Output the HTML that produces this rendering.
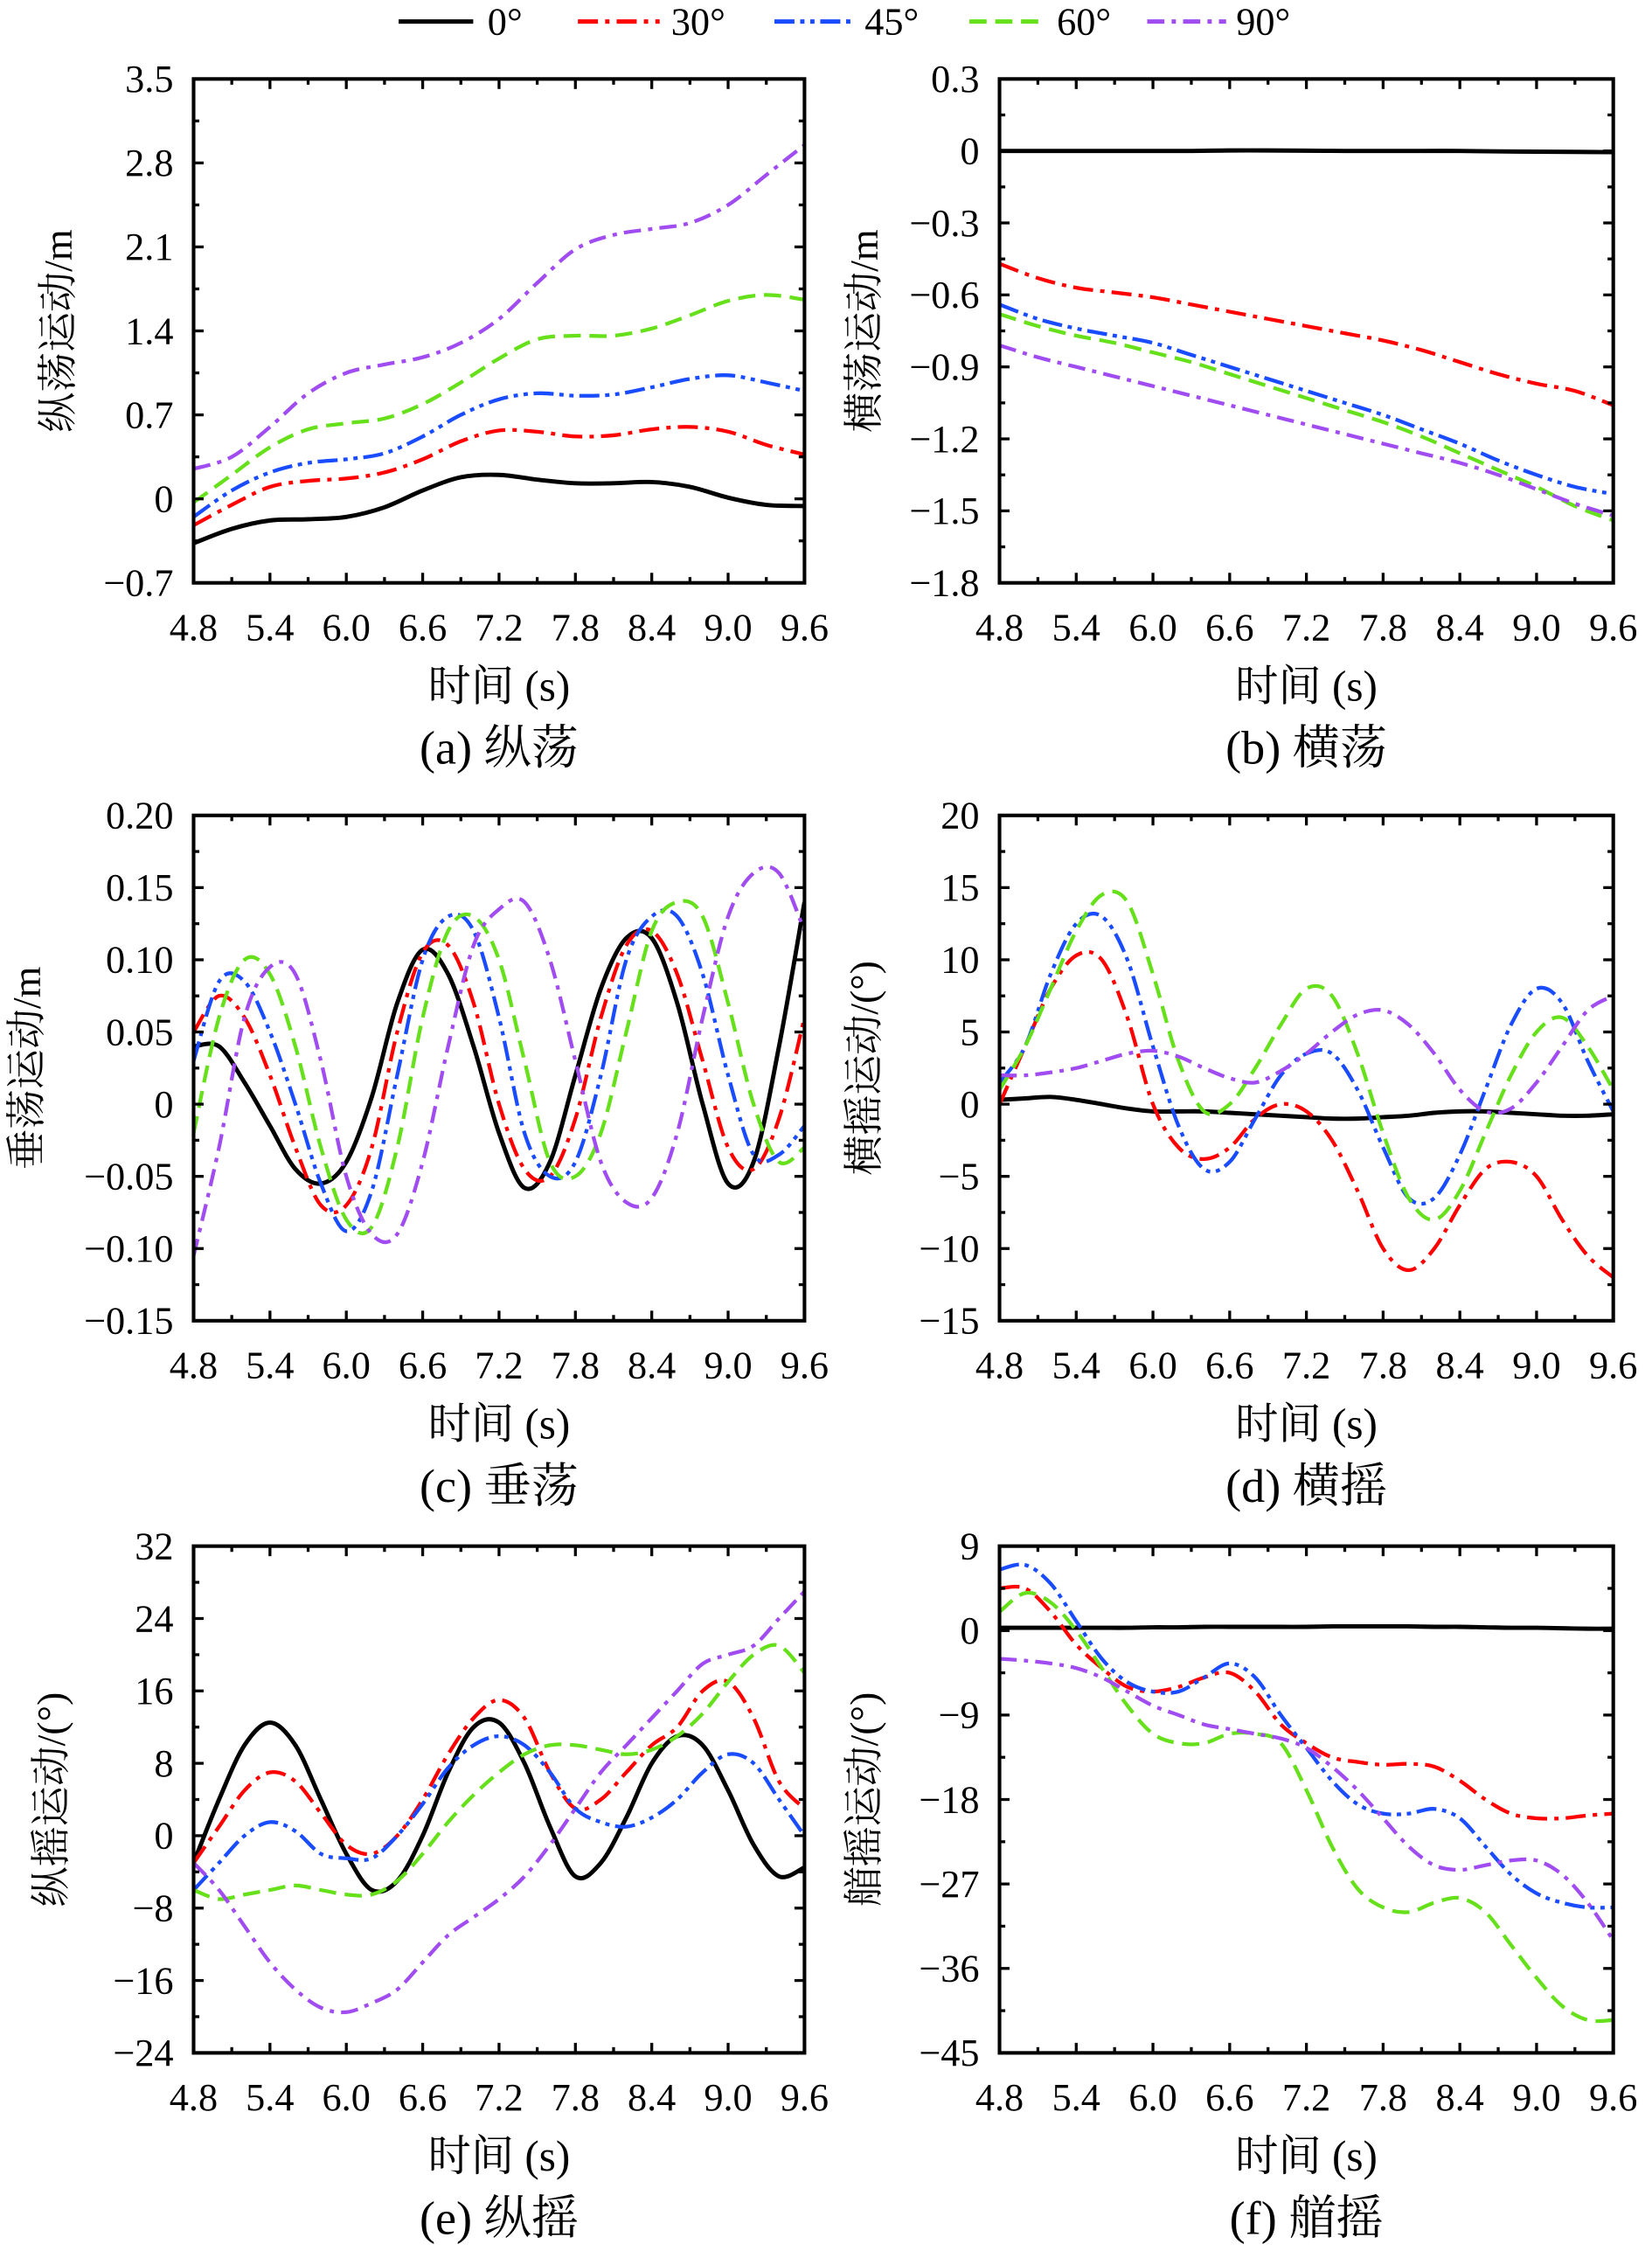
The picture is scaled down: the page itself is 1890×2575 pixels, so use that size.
<!DOCTYPE html>
<html><head><meta charset="utf-8">
<style>
html,body{margin:0;padding:0;background:#fff;}
svg{display:block;}
text{font-family:"Liberation Serif","Noto Serif CJK SC",serif;fill:#000;}
</style></head>
<body>
<svg id="fig" width="1890" height="2575" viewBox="0 0 1152 1568" preserveAspectRatio="none" xmlns="http://www.w3.org/2000/svg">
<g id="legend">
  <g><line x1="278" y1="15" x2="330" y2="15" stroke="#000" stroke-width="3"/><text x="340" y="24" font-size="27">0°</text></g>
  <g><line x1="403" y1="15" x2="460" y2="15" stroke="#f00" stroke-width="3" stroke-dasharray="14 5 3 5"/><text x="468" y="24" font-size="27">30°</text></g>
  <g><line x1="540" y1="15" x2="595" y2="15" stroke="#1a4cff" stroke-width="3" stroke-dasharray="14 4 3 4 3 4"/><text x="603" y="24" font-size="27">45°</text></g>
  <g><line x1="676" y1="15" x2="730" y2="15" stroke="#66e01a" stroke-width="3" stroke-dasharray="12 6"/><text x="737" y="24" font-size="27">60°</text></g>
  <g><line x1="800" y1="15" x2="855" y2="15" stroke="#a04cf0" stroke-width="3" stroke-dasharray="12 5 3 5"/><text x="862" y="24" font-size="27">90°</text></g>
</g>
</svg>
<script>
// ---- data ----
const tA = [4.8,5.1,5.4,5.7,6.0,6.3,6.6,6.9,7.2,7.5,7.8,8.1,8.4,8.7,9.0,9.3,9.6];
const tB = [4.8,5.0,5.2,5.4,5.6,5.8,6.0,6.2,6.4,6.6,6.8,7.0,7.2,7.4,7.6,7.8,8.0,8.2,8.4,8.6,8.8,9.0,9.2,9.4,9.6];
const xTicks = ["4.8","5.4","6.0","6.6","7.2","7.8","8.4","9.0","9.6"];
const seriesNames = ["0°","30°","45°","60°","90°"];

const surge0 = [-0.37,-0.25,-0.18,-0.17,-0.15,-0.07,0.07,0.18,0.2,0.16,0.13,0.13,0.14,0.1,0.01,-0.05,-0.06];
const surge30 = [-0.22,-0.05,0.1,0.15,0.17,0.22,0.33,0.48,0.57,0.56,0.52,0.53,0.58,0.6,0.56,0.45,0.37];
const surge45 = [-0.15,0.07,0.22,0.3,0.33,0.38,0.52,0.7,0.83,0.88,0.86,0.87,0.93,1.0,1.03,0.97,0.9];
const surge60 = [-0.03,0.2,0.43,0.58,0.63,0.67,0.79,0.97,1.17,1.33,1.36,1.36,1.42,1.53,1.65,1.7,1.66];
const surge90 = [0.25,0.35,0.6,0.88,1.05,1.12,1.18,1.3,1.5,1.8,2.08,2.2,2.25,2.3,2.45,2.7,2.95];
const surgeTicks = ["3.5","2.8","2.1","1.4","0.7","0","−0.7"];

const sway0 = [0,0,0,0,0,0,0.002,0.002,0.001,0,0,0,0,-0.002,-0.003,-0.004,-0.005];
const sway30 = [-0.47,-0.53,-0.57,-0.59,-0.61,-0.64,-0.67,-0.7,-0.73,-0.76,-0.79,-0.83,-0.88,-0.93,-0.97,-1.0,-1.06];
const sway45 = [-0.64,-0.7,-0.74,-0.77,-0.8,-0.85,-0.9,-0.95,-1.0,-1.05,-1.1,-1.16,-1.22,-1.29,-1.35,-1.4,-1.43];
const sway60 = [-0.68,-0.73,-0.77,-0.8,-0.84,-0.88,-0.93,-0.98,-1.03,-1.08,-1.13,-1.19,-1.26,-1.33,-1.4,-1.48,-1.54];
const sway90 = [-0.81,-0.86,-0.9,-0.94,-0.98,-1.02,-1.06,-1.1,-1.14,-1.18,-1.22,-1.26,-1.3,-1.35,-1.41,-1.47,-1.52];
const swayTicks = ["0.3","0","−0.3","−0.6","−0.9","−1.2","−1.5","−1.8"];

const heave0 = [0.04,0.04,0.015,-0.015,-0.045,-0.055,-0.04,0.005,0.07,0.107,0.09,0.04,-0.02,-0.058,-0.04,0.02,0.08,0.115,0.115,0.07,0.0,-0.055,-0.04,0.04,0.14];
const heave30 = [0.05,0.075,0.06,0.02,-0.03,-0.07,-0.07,-0.03,0.05,0.105,0.11,0.07,0.0,-0.045,-0.05,-0.01,0.06,0.11,0.12,0.09,0.03,-0.03,-0.045,-0.01,0.06];
const heave45 = [0.03,0.085,0.085,0.05,0.0,-0.055,-0.088,-0.06,0.02,0.1,0.13,0.12,0.06,-0.02,-0.05,-0.04,0.02,0.1,0.13,0.13,0.09,0.02,-0.035,-0.035,-0.015];
const heave60 = [-0.02,0.06,0.1,0.09,0.04,-0.03,-0.08,-0.085,-0.03,0.06,0.12,0.13,0.1,0.03,-0.04,-0.05,-0.02,0.05,0.12,0.14,0.13,0.07,0.0,-0.04,-0.03];
const heave90 = [-0.105,-0.03,0.06,0.095,0.09,0.03,-0.05,-0.09,-0.09,-0.04,0.04,0.11,0.135,0.14,0.1,0.03,-0.04,-0.068,-0.065,-0.02,0.06,0.13,0.16,0.16,0.12];
const heaveTicks = ["0.20","0.15","0.10","0.05","0","−0.05","−0.10","−0.15"];

const roll0 = [0.3,0.4,0.5,0.3,0,-0.3,-0.5,-0.5,-0.5,-0.6,-0.7,-0.8,-0.9,-1.0,-1.0,-0.9,-0.8,-0.6,-0.5,-0.5,-0.6,-0.7,-0.8,-0.8,-0.7];
const roll30 = [0,4,8,10.3,10,6,0,-3,-3.8,-3,-1,0,-0.5,-2.5,-6,-10,-11.5,-10,-7,-4.5,-4,-5,-8,-10.5,-12];
const roll45 = [1.5,4,9,12.5,13,10,4,-1.5,-4.5,-4,-1,2,3.5,3.5,1,-3,-6.5,-6.5,-3.5,1,5.5,8,7,3,-0.5];
const roll60 = [1,4,8,12,14.5,14,9,3,-0.5,0,2.5,5.5,8,7.5,3.5,-2,-6.5,-8,-6,-2,2,5,6,4,1];
const roll90 = [2,2,2.2,2.5,3,3.5,3.7,3.3,2.5,1.8,1.5,2.3,3.5,5,6.2,6.5,5.5,3.5,1,-0.5,-0.3,1.5,4,6.5,7.5];
const rollTicks = ["20","15","10","5","0","−5","−10","−15"];

const pitch0 = [-3,4,10,12.5,10,4,-2,-6,-5,0,7,12,12.5,8,1,-4.5,-3,2,8,11,10,5,-1,-4.5,-3.5];
const pitch30 = [-3,1,5,7,6,2.5,-1,-2,0,4,9,13,15,13,7,3,4,7,10,12,16,17,13,6,3];
const pitch45 = [-6,-3,0,1.5,0.5,-2,-2.5,-2.5,0,3.5,7.5,10,11,10,7,3,1.5,1,2,4,7,9,8,4,0];
const pitch60 = [-6,-7,-6.5,-6,-5.5,-6,-6.5,-6.5,-5,-2,1.5,4.5,7,9,10,10,9.5,9,9.5,11,13.5,17,20,21,18];
const pitch90 = [-3,-6,-10,-14,-17,-19,-19.5,-18.5,-17,-14,-11,-9,-7,-4.5,-1,3,7,10,13,16,19,20,21,24,27];
const pitchTicks = ["32","24","16","8","0","−8","−16","−24"];

const yaw0 = [0.3,0.3,0.3,0.3,0.3,0.3,0.35,0.35,0.4,0.4,0.4,0.4,0.4,0.45,0.45,0.45,0.45,0.4,0.4,0.35,0.3,0.3,0.25,0.2,0.2];
const yaw30 = [4.5,4.5,2,-1.5,-4,-6,-6.5,-6,-5,-4.5,-6.5,-10,-12,-13.5,-14,-14.3,-14.2,-14.5,-16,-18,-19.5,-20,-20,-19.7,-19.5];
const yaw45 = [6.5,7,5,1,-3,-5.5,-6.5,-6.5,-5,-3.5,-5,-9,-12.5,-16,-18.5,-19.5,-19.5,-19,-20,-23,-26,-28,-29,-29.5,-29.5];
const yaw60 = [2,4,3,0,-4,-8,-11,-12,-12,-11,-11,-12,-17,-23,-27.5,-29.5,-30,-29,-28.5,-30,-33.5,-37,-40,-41.5,-41.5];
const yaw90 = [-3,-3.2,-3.5,-4,-5,-6.5,-8,-9,-10,-10.5,-11,-11.5,-12.5,-14.5,-17,-20,-23,-25,-25.5,-25,-24.5,-24.5,-26,-29,-33];
const yawTicks = ["9","0","−9","−18","−27","−36","−45"];

// ---- drawing ----
const NS = "http://www.w3.org/2000/svg";
const svg = document.getElementById('fig');
const styles = [
  {c:"#000", w:3, d:""},
  {c:"#f00", w:2.6, d:"14 5 3 5"},
  {c:"#1a4cff", w:2.6, d:"14 4 3 4 3 4"},
  {c:"#66e01a", w:2.6, d:"12 6"},
  {c:"#a04cf0", w:2.6, d:"12 5 3 5"}
];
function mk(tag, attrs, parent){
  const e = document.createElementNS(NS, tag);
  for (const k in attrs) e.setAttribute(k, attrs[k]);
  parent.appendChild(e);
  return e;
}
function smooth(pts){
  let d = "M"+pts[0][0].toFixed(2)+","+pts[0][1].toFixed(2);
  for (let i=0;i<pts.length-1;i++){
    const p0=pts[Math.max(0,i-1)], p1=pts[i], p2=pts[i+1], p3=pts[Math.min(pts.length-1,i+2)];
    const c1x=p1[0]+(p2[0]-p0[0])/6, c1y=p1[1]+(p2[1]-p0[1])/6;
    const c2x=p2[0]-(p3[0]-p1[0])/6, c2y=p2[1]-(p3[1]-p1[1])/6;
    d += " C"+c1x.toFixed(2)+","+c1y.toFixed(2)+" "+c2x.toFixed(2)+","+c2y.toFixed(2)+" "+p2[0].toFixed(2)+","+p2[1].toFixed(2);
  }
  return d;
}
function panel(cfg){
  const {key, L, R, T, B, ymax, ymin, ticks, times, series, ylabel, caption} = cfg;
  const g = mk('g', {}, svg);
  
  
  const xs = t => L + (t-4.8)/(9.6-4.8)*(R-L);
  const ys = v => B - (v-ymin)/(ymax-ymin)*(B-T);
  const clipId = 'clip-'+key;
  const cp = mk('clipPath', {id:clipId}, g);
  mk('rect', {x:L, y:T, width:R-L, height:B-T}, cp);
  const sg = mk('g', {'clip-path':'url(#'+clipId+')'}, g);
  series.forEach((vals, i) => {
    const pts = vals.map((v,j)=>[xs(times[j]), ys(v)]);
    const p = mk('path', {d:smooth(pts), fill:'none', stroke:styles[i].c, 'stroke-width':styles[i].w, 'stroke-dasharray':styles[i].d, 'stroke-linejoin':'round'}, sg);
    
    
  });
  const fr = mk('rect', {x:L, y:T, width:R-L, height:B-T, fill:'none', stroke:'#000', 'stroke-width':2.5}, g);
  
  
  const nx = xTicks.length;
  for (let i=0;i<nx;i++){
    const x = xs(parseFloat(xTicks[i]));
    mk('line', {x1:x, y1:B, x2:x, y2:B-7, stroke:'#000','stroke-width':2}, g);
    mk('line', {x1:x, y1:T, x2:x, y2:T+7, stroke:'#000','stroke-width':2}, g);
    if (i<nx-1){
      const xm = xs(parseFloat(xTicks[i])+0.3);
      mk('line', {x1:xm, y1:B, x2:xm, y2:B-4, stroke:'#000','stroke-width':2}, g);
      mk('line', {x1:xm, y1:T, x2:xm, y2:T+4, stroke:'#000','stroke-width':2}, g);
    }
    const tx = mk('text', {x:x, y:B+40, 'font-size':27, 'text-anchor':'middle'}, g);
    tx.textContent = xTicks[i];
    
    
  }
  const ny = ticks.length;
  for (let i=0;i<ny;i++){
    const v = parseFloat(ticks[i].replace('−','-'));
    const y = ys(v);
    mk('line', {x1:L, y1:y, x2:L+7, y2:y, stroke:'#000','stroke-width':2}, g);
    mk('line', {x1:R, y1:y, x2:R-7, y2:y, stroke:'#000','stroke-width':2}, g);
    if (i<ny-1){
      const y2 = (y + ys(parseFloat(ticks[i+1].replace('−','-'))))/2;
      mk('line', {x1:L, y1:y2, x2:L+4, y2:y2, stroke:'#000','stroke-width':2}, g);
      mk('line', {x1:R, y1:y2, x2:R-4, y2:y2, stroke:'#000','stroke-width':2}, g);
    }
    const ty = mk('text', {x:L-14, y:y+9, 'font-size':27, 'text-anchor':'end'}, g);
    ty.textContent = ticks[i];
    
    
  }
  const xt = mk('text', {x:(L+R)/2, y:B+82, 'font-size':30, 'text-anchor':'middle'}, g);
  xt.textContent = '时间 (s)';
  
  
  const yx = cfg.ylx, yy = (T+B)/2;
  const yt = mk('text', {x:yx, y:yy, 'font-size':28, 'text-anchor':'middle', transform:'rotate(-90 '+yx+' '+yy+')'}, g);
  yt.textContent = ylabel;
  
  
  const cap = mk('text', {x:(L+R)/2, y:B+126, 'font-size':33, 'text-anchor':'middle'}, g);
  cap.textContent = caption;
  
  
}
panel({key:'surge', L:135, R:561, T:55, B:406, ymax:3.5, ymin:-0.7, ticks:surgeTicks, times:tA,
  series:[surge0,surge30,surge45,surge60,surge90], ylabel:'纵荡运动/m', caption:'(a) 纵荡', ylx:50});
panel({key:'sway', L:697, R:1125, T:55, B:406, ymax:0.3, ymin:-1.8, ticks:swayTicks, times:tA,
  series:[sway0,sway30,sway45,sway60,sway90], ylabel:'横荡运动/m', caption:'(b) 横荡', ylx:612});
panel({key:'heave', L:135, R:561, T:568, B:920, ymax:0.20, ymin:-0.15, ticks:heaveTicks, times:tB,
  series:[heave0,heave30,heave45,heave60,heave90], ylabel:'垂荡运动/m', caption:'(c) 垂荡', ylx:28});
panel({key:'roll', L:697, R:1125, T:568, B:920, ymax:20, ymin:-15, ticks:rollTicks, times:tB,
  series:[roll0,roll30,roll45,roll60,roll90], ylabel:'横摇运动/(°)', caption:'(d) 横摇', ylx:612});
panel({key:'pitch', L:135, R:561, T:1077, B:1430, ymax:32, ymin:-24, ticks:pitchTicks, times:tB,
  series:[pitch0,pitch30,pitch45,pitch60,pitch90], ylabel:'纵摇运动/(°)', caption:'(e) 纵摇', ylx:45});
panel({key:'yaw', L:697, R:1125, T:1077, B:1430, ymax:9, ymin:-45, ticks:yawTicks, times:tB,
  series:[yaw0,yaw30,yaw45,yaw60,yaw90], ylabel:'艏摇运动/(°)', caption:'(f) 艏摇', ylx:612});
</script>
</body></html>
